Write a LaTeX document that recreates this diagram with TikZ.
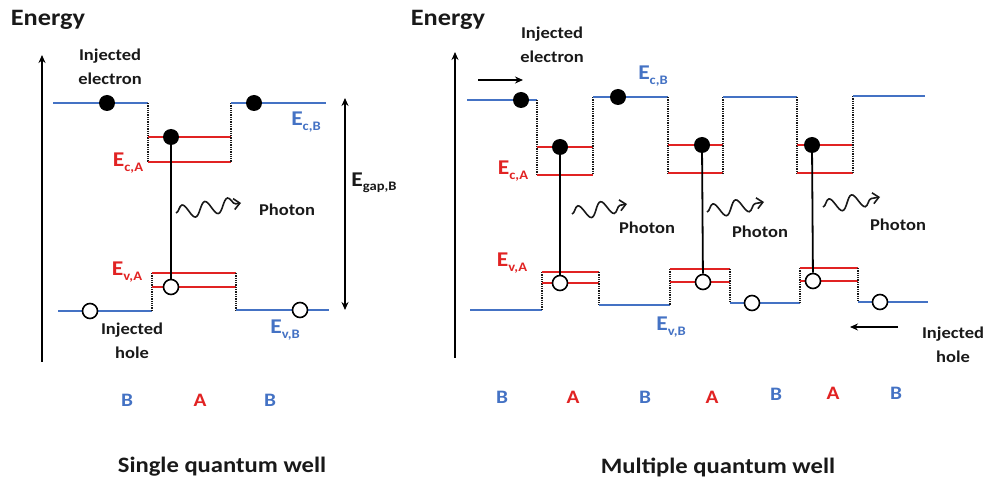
\documentclass[tikz,border=0pt]{standalone}
\usepackage{fontspec}
\setmainfont{Carlito}[FakeStretch=1.12]
\usetikzlibrary{arrows.meta,decorations.pathmorphing}
\definecolor{lvblue}{RGB}{68,114,196}
\definecolor{lvred}{RGB}{225,35,35}
\definecolor{ink}{RGB}{25,25,25}
\newcommand\enlev[2]{#1\raisebox{-0.45ex}{\fontsize{13}{13}\selectfont #2}}
\tikzset{
  bandB/.style={lvblue, line width=2.2pt},
  bandA/.style={lvred, line width=2.6pt},
  stepline/.style={ink, densely dotted, line width=1.3pt},
  elec/.style={circle, fill=black, minimum size=16pt, inner sep=0pt},
  hole/.style={circle, draw=black, line width=1.6pt, fill=white, minimum size=15pt, inner sep=0pt},
  txt/.style={font=\bfseries\fontsize{16.5}{24}\selectfont, align=center, text=ink},
  bigtxt/.style={font=\bfseries\fontsize{22}{26}\selectfont, text=ink},
  entxt/.style={font=\bfseries\fontsize{23.5}{26}\selectfont, text=ink},
  lvl/.style={font=\bfseries\fontsize{21}{22}\selectfont, inner sep=0pt},
  region/.style={font=\bfseries\fontsize{19}{22}\selectfont},
  trans/.style={black, line width=1.8pt},
  photon/.style={ink, line width=1.6pt, decorate, decoration={snake, amplitude=7pt, segment length=23pt, post length=5pt}, -{Straight Barb[length=6pt,width=11pt]}},
  axis/.style={black, line width=2.2pt, -{Stealth[length=8pt,width=7pt]}},
  flow/.style={black, line width=1.6pt, -{Stealth[length=8pt,width=7pt]}}
}
\begin{document}
\begin{tikzpicture}[x=1pt,y=-1pt]
\useasboundingbox (0,0) rectangle (989,481);
% ================= LEFT: single quantum well =================
\node[entxt] (enL) at (48,20) {Energy};
\coordinate (axL0) at (42,362); \coordinate (axL1) at (42,55);
\draw[axis] (axL0) -- (axL1);
% conduction band
\draw[bandB] (53,103) -- (148,103);
\draw[stepline] (148,103) -- (148,162);
\draw[bandA] (148,137) -- (231,137);
\draw[bandA] (148,162) -- (231,162);
\draw[stepline] (231,103) -- (231,162);
\draw[bandB] (231,103) -- (326,103);
% valence band
\draw[bandB] (58,311) -- (152,311);
\draw[stepline] (152,273) -- (152,311);
\draw[bandA] (152,273) -- (236,273);
\draw[bandA] (152,287) -- (236,287);
\draw[stepline] (236,273) -- (236,310);
\draw[bandB] (236,310) -- (329,310);
% carriers
\node[elec] (eL1) at (107,103) {};
\node[elec] (eL2) at (254,103) {};
\node[elec] (eLw) at (171,137) {};
\node[hole] (hL1) at (90,311) {};
\node[hole] (hL2) at (300,310) {};
\node[hole] (hLw) at (171,287) {};
\draw[trans] (eLw.center) -- (hLw);
% photon
\coordinate (phL0) at (176,213); \coordinate (phL1) at (241,203);
\draw[photon] (phL0) -- (phL1);
\node[txt] (phLt) at (287,210) {Photon};
% gap arrow
\coordinate (gL0) at (345,98); \coordinate (gL1) at (345,310);
\draw[black, line width=1.6pt, {Stealth[length=8pt,width=7pt]}-{Stealth[length=8pt,width=7pt]}] (gL0) -- (gL1);
\node[lvl, text=ink] (gapL) at (374,183) {\enlev{E}{gap,B}};
% labels
\node[txt] (ieL) at (110,67) {Injected\\electron};
\node[txt] (ihL) at (132,341) {Injected\\hole};
\node[lvl, text=lvblue] (EcBL) at (306,122) {\enlev{E}{c,B}};
\node[lvl, text=lvred] (EcAL) at (128,163) {\enlev{E}{c,A}};
\node[lvl, text=lvred] (EvAL) at (127,272) {\enlev{E}{v,A}};
\node[lvl, text=lvblue] (EvBL) at (285,330) {\enlev{E}{v,B}};
\node[region, text=lvblue] (rL1) at (127,400) {B};
\node[region, text=lvred] (rL2) at (200,400) {A};
\node[region, text=lvblue] (rL3) at (270,400) {B};
\node[bigtxt] (tL) at (222,467) {Single quantum well};
% ================= RIGHT: multiple quantum well =================
\node[entxt] (enR) at (448,20) {Energy};
\coordinate (axR0) at (455,358); \coordinate (axR1) at (455,52);
\draw[axis] (axR0) -- (axR1);
% conduction band
\draw[bandB] (467,100) -- (537,100);
\draw[stepline] (537,100) -- (537,175);
\draw[bandA] (537,147) -- (593,147);
\draw[bandA] (537,175) -- (593,175);
\draw[stepline] (593,97) -- (593,175);
\draw[bandB] (593,97) -- (668,97);
\draw[stepline] (668,97) -- (668,173);
\draw[bandA] (668,145) -- (723,145);
\draw[bandA] (668,173) -- (723,173);
\draw[stepline] (723,97) -- (723,173);
\draw[bandB] (723,97) -- (797,97);
\draw[stepline] (797,97) -- (797,173);
\draw[bandA] (797,145) -- (853,145);
\draw[bandA] (797,173) -- (853,173);
\draw[stepline] (853,96) -- (853,173);
\draw[bandB] (853,96) -- (925,96);
% valence band
\draw[bandB] (470,310) -- (542,310);
\draw[stepline] (542,272) -- (542,310);
\draw[bandA] (542,272) -- (599,272);
\draw[bandA] (542,283) -- (599,283);
\draw[stepline] (599,272) -- (599,305);
\draw[bandB] (599,305) -- (670,305);
\draw[stepline] (670,269) -- (670,305);
\draw[bandA] (670,269) -- (730,269);
\draw[bandA] (670,282) -- (730,282);
\draw[stepline] (730,269) -- (730,303);
\draw[bandB] (730,303) -- (800,303);
\draw[stepline] (800,268) -- (800,303);
\draw[bandA] (800,268) -- (858,268);
\draw[bandA] (800,281) -- (858,281);
\draw[stepline] (858,268) -- (858,302);
\draw[bandB] (858,302) -- (928,302);
% carriers
\node[elec] (eR1) at (521,100) {};
\node[elec] (eR2) at (618,97) {};
\node[elec] (eRw1) at (560,147) {};
\node[elec] (eRw2) at (702,145) {};
\node[elec] (eRw3) at (812,145) {};
\node[hole] (hRw1) at (560,283) {};
\node[hole] (hRw2) at (703,282) {};
\node[hole] (hRw3) at (813,281) {};
\node[hole] (hR1) at (752,303) {};
\node[hole] (hR2) at (880,302) {};
\draw[trans] (eRw1.center) -- (hRw1);
\draw[trans] (eRw2.center) -- (hRw2);
\draw[trans] (eRw3.center) -- (hRw3);
% photons
\coordinate (phR1a) at (572,214); \coordinate (phR1b) at (627,204);
\coordinate (phR2a) at (707,212); \coordinate (phR2b) at (764,202);
\coordinate (phR3a) at (823,207); \coordinate (phR3b) at (880,197);
\draw[photon] (phR1a) -- (phR1b);
\draw[photon] (phR2a) -- (phR2b);
\draw[photon] (phR3a) -- (phR3b);
\node[txt] (phR1t) at (647,228) {Photon};
\node[txt] (phR2t) at (760,232) {Photon};
\node[txt] (phR3t) at (898,225) {Photon};
% injection arrows
\coordinate (ieA0) at (478,80); \coordinate (ieA1) at (523,80);
\draw[flow] (ieA0) -- (ieA1);
\coordinate (ihA0) at (898,327); \coordinate (ihA1) at (850,327);
\draw[flow] (ihA0) -- (ihA1);
% labels
\node[txt] (ieR) at (552,45) {Injected\\electron};
\node[txt] (ihR) at (953,345) {Injected\\hole};
\node[lvl, text=lvblue] (EcBR) at (653,76) {\enlev{E}{c,B}};
\node[lvl, text=lvred] (EcAR) at (513,171) {\enlev{E}{c,A}};
\node[lvl, text=lvred] (EvAR) at (512,263) {\enlev{E}{v,A}};
\node[lvl, text=lvblue] (EvBR) at (671,327) {\enlev{E}{v,B}};
\node[region, text=lvblue] (rR1) at (502,397) {B};
\node[region, text=lvred] (rR2) at (573,397) {A};
\node[region, text=lvblue] (rR3) at (645,397) {B};
\node[region, text=lvred] (rR4) at (712,397) {A};
\node[region, text=lvblue] (rR5) at (776,394) {B};
\node[region, text=lvred] (rR6) at (833,393) {A};
\node[region, text=lvblue] (rR7) at (896,393) {B};
\node[bigtxt] (tR) at (718,467) {Multiple quantum well};
\end{tikzpicture}
\end{document}
